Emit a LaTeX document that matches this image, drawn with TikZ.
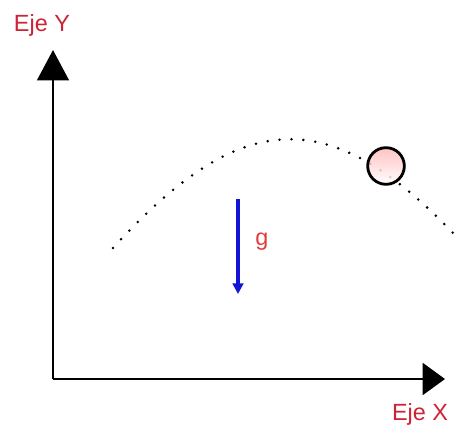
\documentclass[tikz,border=0pt]{standalone}
\usepackage{fontspec}
\setmainfont{Liberation Sans}
\usetikzlibrary{arrows.meta}
\definecolor{ejered}{RGB}{205,35,55}
\definecolor{gred}{RGB}{228,60,60}
\definecolor{gblue}{RGB}{20,20,215}
\begin{document}
\begin{tikzpicture}[x=0.03cm, y=-0.03cm, font=\fontsize{20}{24}\selectfont,
      eje/.style={line width=2.5pt},
      lbl/.style={text=ejered, inner sep=0pt},
      tray/.style={line width=2.4pt, line cap=round, dash pattern=on 0pt off 10.2pt},
      bola/.style={circle, draw, line width=2.4pt, minimum size=1.1cm, inner sep=0pt,
                   top color=red!28, bottom color=white, fill opacity=0.85}]
    \useasboundingbox (0,0) rectangle (457,430);
    % ejes
    \coordinate (O)    at (53,379);
    \coordinate (ytip) at (53,50);
    \coordinate (xtip) at (445,379);
    \draw[eje, -{Triangle[length=26pt, width=27pt]}] (O) -- (ytip);
    \draw[eje, -{Triangle[length=19pt, width=27pt]}] (O) -- (xtip);
    \node[lbl] (ejey) at (42,25) {Eje Y};
    \node[lbl] (ejex) at (420,414) {Eje X};
    % trayectoria
    \coordinate (p0) at (113,248);
    \coordinate (p1) at (467,248);
    \begin{scope}
      \clip (0,0) rectangle (457,430);
      \draw[tray] (p0) .. controls (245,103) and (335,103) .. (p1);
    \end{scope}
    \node[bola] (bola) at (386,166) {};
    % gravedad
    \coordinate (gtop) at (238,199);
    \coordinate (gbot) at (238,294);
    \draw[gblue, line width=2.6pt, -{Triangle[length=9pt, width=9pt]}] (gtop) -- (gbot);
    \node[lbl, text=gred] (g) at (262,242) {g};
  \end{tikzpicture}
\end{document}
